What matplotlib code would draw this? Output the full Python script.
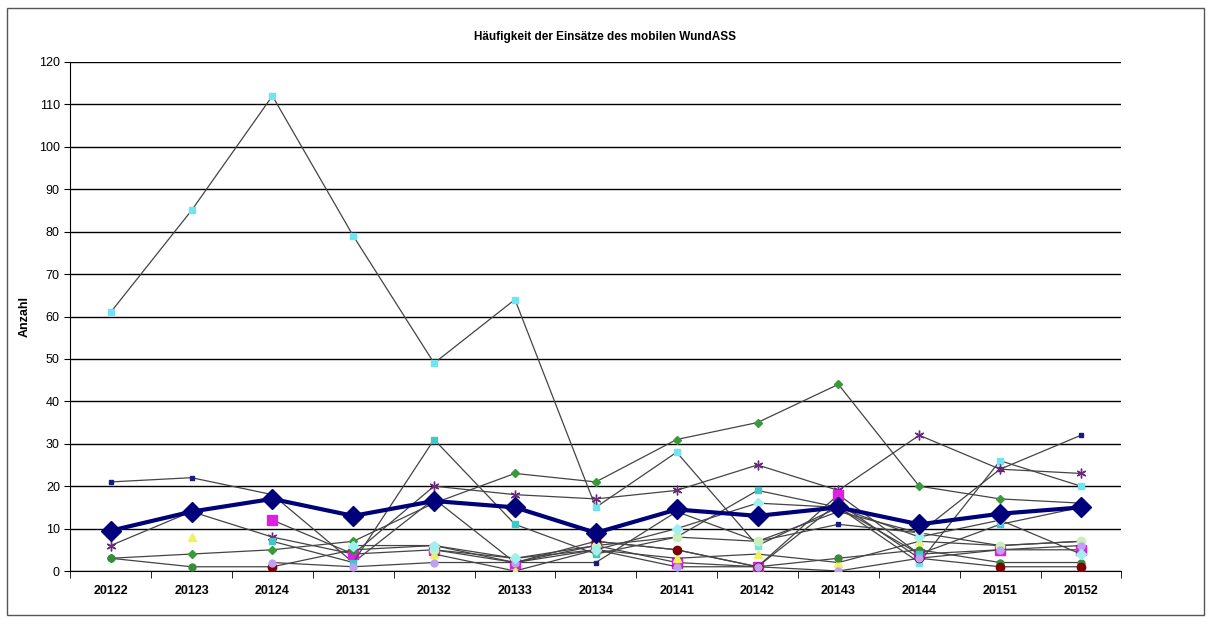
import matplotlib.pyplot as plt
import numpy as np
from matplotlib.patches import Rectangle

plt.rcParams['font.family'] = ['Liberation Sans', 'DejaVu Sans']

nan = np.nan
quarters = ['20122', '20123', '20124', '20131', '20132', '20133', '20134',
            '20141', '20142', '20143', '20144', '20151', '20152']

cyan_big = [61, 85, 112, 79, 49, 64, 15, 28, 6, 15, 2, 26, 20]
green = [3, 4, 5, 7, 16, 23, 21, 31, 35, 44, 20, 17, 16]
navy = [21, 22, 18, 2, 17, 2, 2, 14, 7, 11, 9, 24, 32]
purple = [6, 14, 8, 4, 20, 18, 17, 19, 25, 19, 32, 24, 23]
magenta = [nan, nan, 12, 4, 5, 2, 6, 2, 1, 18, 4, 5, 5]
yellow = [nan, 8, nan, nan, 4, 0, 5, 3, 4, 2, 7, 6, 7]
olive = [3, 1, 1, 5, 6, 2, 7, 5, 1, 3, 5, 2, 2]
darkred = [nan, nan, 1, nan, nan, nan, 7, 5, 1, 16, 3, 1, 1]
teal = [nan, nan, 7, 2, 31, 11, 4, 8, 19, 15, 4, 11, 15]
lightgreen = [nan, nan, nan, nan, 5, 3, 6, 8, 7, 14, 9, 6, 7]
lavender = [nan, nan, 2, 1, 2, 2, 5, 1, 1, 0, 3, 5, 6]
lightcyan = [nan, nan, nan, 6, 6, 3, 5, 10, 16, 15, 8, 12, 4]
mean = [9.5, 14, 17, 13, 16.5, 15, 9, 14.5, 13, 15, 11, 13.5, 15]

x = np.arange(len(quarters))

fig = plt.figure(figsize=(12.11, 6.25), dpi=100)
fig.patches.append(Rectangle((0.006, 0.016), 0.988, 0.972, transform=fig.transFigure,
                             fill=False, edgecolor='#555555', lw=1))
ax = fig.add_axes([0.058, 0.0864, 0.868, 0.8144])

series = [
    (cyan_big, '#70e4f0', 's', 4),
    (green, '#3a9a3a', 'D', 4),
    (navy, '#1a1a80', 's', 3),
    (purple, '#6a2a7a', (6, 2, 0), 7),
    (magenta, '#e020e0', 's', 7),
    (yellow, '#f0f060', '^', 6),
    (olive, '#3a8a3a', 'o', 5),
    (darkred, '#800000', 'o', 6),
    (teal, '#40c8c8', 's', 5),
    (lightgreen, '#c8f0b8', 'o', 6),
    (lavender, '#c0a0f0', 'o', 5),
    (lightcyan, '#a0f0f0', 'D', 5),
]
for vals, col, mk, ms in series:
    ax.plot(x, vals, color='#444444', lw=0.9, marker=mk, ms=ms,
            markerfacecolor=col, markeredgecolor=col, zorder=3)

ax.plot(x, mean, color='#00007a', lw=3, marker='D', ms=10, zorder=5)

ax.set_xlim(-0.5, 12.5)
ax.set_ylim(0, 120)
ax.set_yticks(range(0, 121, 10))
ax.yaxis.grid(True, color='black', lw=1)
ax.set_axisbelow(True)
ax.set_xticks(x)
ax.set_xticklabels(quarters, fontweight='bold', fontsize=9)
ax.set_xticks(np.arange(-0.5, 13, 1), minor=True)
ax.tick_params(axis='x', which='major', length=0, pad=10)
ax.tick_params(axis='x', which='minor', length=5)
ax.tick_params(axis='y', labelsize=9, length=4)
for s in ['top', 'right']:
    ax.spines[s].set_visible(False)
ax.set_ylabel('Anzahl', fontweight='bold', fontsize=9, labelpad=6)
fig.text(0.5, 0.936, 'Häufigkeit der Einsätze des mobilen WundASS', ha='center',
         fontweight='bold', fontsize=8.5)

plt.savefig('out.png')
